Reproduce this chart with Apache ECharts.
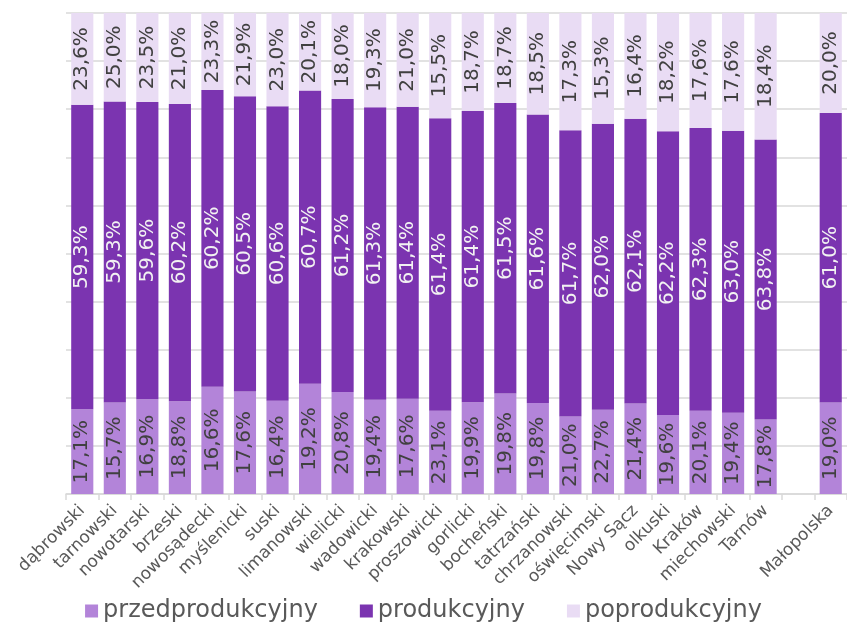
<!DOCTYPE html>
<html>
<head>
<meta charset="utf-8">
<script src="https://cdn.jsdelivr.net/npm/echarts@6/dist/echarts.min.js"></script>
<style>
  html, body { margin: 0; padding: 0; background: #fff; }
  #charts { width: 847px; height: 627px; }
</style>
</head>
<body>
<div id="charts"></div>
<script>
// categories (empty slot before the region total)
let categories = ["dąbrowski", "tarnowski", "nowotarski", "brzeski", "nowosądecki", "myślenicki", "suski",
  "limanowski", "wielicki", "wadowicki", "krakowski", "proszowicki", "gorlicki", "bocheński", "tatrzański",
  "chrzanowski", "oświęcimski", "Nowy Sącz", "olkuski", "Kraków", "miechowski", "Tarnów", "", "Małopolska"];

// bar heights (% of bar)
let przedValues = [17.6, 19.0, 19.7, 19.3, 22.3, 21.3, 19.4, 22.9, 21.2, 19.6, 19.8, 17.3, 19.1, 20.9, 18.9,
  16.1, 17.5, 18.8, 16.4, 17.3, 16.9, 15.5, "-", 19.0];
let prodValues = [63.3, 62.6, 61.8, 61.8, 61.7, 61.4, 61.2, 61.0, 60.9, 60.8, 60.7, 60.8, 60.5, 60.4, 60.0,
  59.5, 59.5, 59.2, 59.0, 58.8, 58.6, 58.2, "-", 60.2];
let poprodValues = [19.1, 18.4, 18.5, 18.9, 16.0, 17.3, 19.4, 16.1, 17.9, 19.6, 19.5, 21.9, 20.4, 18.7, 21.1,
  24.4, 23.0, 22.0, 24.6, 23.9, 24.5, 26.3, "-", 20.8];

// printed labels
let przedLabels = ["17,1%", "15,7%", "16,9%", "18,8%", "16,6%", "17,6%", "16,4%", "19,2%", "20,8%", "19,4%",
  "17,6%", "23,1%", "19,9%", "19,8%", "19,8%", "21,0%", "22,7%", "21,4%", "19,6%", "20,1%", "19,4%", "17,8%", "", "19,0%"];
let prodLabels = ["59,3%", "59,3%", "59,6%", "60,2%", "60,2%", "60,5%", "60,6%", "60,7%", "61,2%", "61,3%",
  "61,4%", "61,4%", "61,4%", "61,5%", "61,6%", "61,7%", "62,0%", "62,1%", "62,2%", "62,3%", "63,0%", "63,8%", "", "61,0%"];
let poprodLabels = ["23,6%", "25,0%", "23,5%", "21,0%", "23,3%", "21,9%", "23,0%", "20,1%", "18,0%", "19,3%",
  "21,0%", "15,5%", "18,7%", "18,7%", "18,5%", "17,3%", "15,3%", "16,4%", "18,2%", "17,6%", "17,6%", "18,4%", "", "20,0%"];

let seriesNames = ["przedprodukcyjny", "produkcyjny", "poprodukcyjny"];
let colors = ["#b384d9", "#7b34b0", "#e9dcf4"];
let fontFamily = "DejaVu Sans";

let chartDom = document.getElementById("charts");
let myChart = echarts.init(chartDom);

function makeSeries(idx, values, labels, textColor) {
  return {
    name: seriesNames[idx],
    type: "bar",
    stack: "Total",
    barWidth: "68%",
    data: values,
    itemStyle: {
      color: colors[idx],
    },
    label: {
      show: true,
      position: "inside",
      rotate: 90,
      color: textColor,
      fontFamily: fontFamily,
      fontSize: 20,
      formatter: function (p) {
        return labels[p.dataIndex];
      },
    },
  };
}

let option = {
  animation: false,
  textStyle: { fontFamily: fontFamily },
  grid: {
    left: 66,
    right: -5,
    top: 13,
    bottom: 133,
  },
  legend: {
    bottom: -1,
    left: "center",
    itemWidth: 13,
    itemHeight: 13,
    itemGap: 42,
    icon: "rect",
    textStyle: {
      color: "#595959",
      fontSize: 24,
      fontFamily: fontFamily,
    },
    data: seriesNames,
  },
  xAxis: {
    type: "category",
    data: categories,
    axisLine: { lineStyle: { color: "#d9d9d9", width: 1.5 } },
    axisTick: { show: true, length: 6, lineStyle: { color: "#d9d9d9", width: 1.5 } },
    axisLabel: {
      interval: 0,
      rotate: 45,
      margin: 14,
      color: "#595959",
      fontSize: 17,
      fontFamily: fontFamily,
    },
  },
  yAxis: {
    type: "value",
    min: 0,
    max: 100,
    interval: 10,
    axisLabel: { show: false },
    axisLine: { show: false },
    axisTick: { show: false },
    splitLine: { lineStyle: { color: "#d9d9d9", width: 1.5 } },
  },
  series: [
    makeSeries(0, przedValues, przedLabels, "#404040"),
    makeSeries(1, prodValues, prodLabels, "#f2f2f2"),
    makeSeries(2, poprodValues, poprodLabels, "#404040"),
  ],
};

option && myChart.setOption(option);
</script>
</body>
</html>
